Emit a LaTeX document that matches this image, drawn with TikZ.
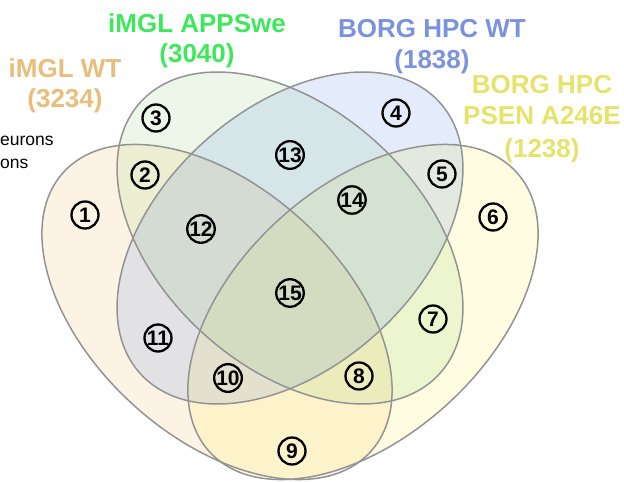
\documentclass[tikz,border=0pt]{standalone}
\usepackage{fontspec}
\setmainfont{Liberation Sans}
% set fills
\definecolor{fillA}{HTML}{F5B860}
\definecolor{fillB}{HTML}{6CC04A}
\definecolor{fillC}{HTML}{4A7BE0}
\definecolor{fillD}{HTML}{FFF24D}
% set titles
\definecolor{titleA}{HTML}{E8BE7A}
\definecolor{titleB}{HTML}{3DE85A}
\definecolor{titleC}{HTML}{7B93DE}
\definecolor{titleD}{HTML}{E6E36A}
\definecolor{rim}{HTML}{939393}
\tikzset{
  setfill/.style={fill=#1, fill opacity=0.17, draw=none},
  setrim/.style={draw=rim, line width=1.5pt},
  regionmark/.style={circle, draw=black, line width=2.3pt, minimum size=27pt,
    inner sep=0pt, font=\fontsize{21}{21}\selectfont\bfseries},
  settitle/.style={anchor=base, inner sep=0pt, text=#1,
    font=\fontsize{26}{30}\selectfont\bfseries},
  sidenote/.style={anchor=base west, inner sep=0pt,
    font=\fontsize{17.5}{20}\selectfont}
}
\begin{document}
\begin{tikzpicture}[x=1pt, y=-1pt]
\useasboundingbox (0,0) rectangle (624,482);

% ellipse centres
\coordinate (cA) at (217,312);
\coordinate (cD) at (363,312);
\coordinate (cBC) at (290,238);

% translucent fills
\fill[setfill=fillA, rotate around={-42.3:(cA)}] (cA) ellipse [x radius=207.6pt, y radius=125pt];
\fill[setfill=fillD, rotate around={42.3:(cD)}] (cD) ellipse [x radius=207.6pt, y radius=125pt];
\fill[setfill=fillB, fill opacity=0.12, rotate around={-42.2:(cBC)}] (cBC) ellipse [x radius=202pt, y radius=129pt];
\fill[setfill=fillC, fill opacity=0.15, rotate around={42.2:(cBC)}] (cBC) ellipse [x radius=202pt, y radius=129pt];

% outlines
\draw[setrim, rotate around={-42.3:(cA)}] (cA) ellipse [x radius=207.6pt, y radius=125pt];
\draw[setrim, rotate around={42.3:(cD)}] (cD) ellipse [x radius=207.6pt, y radius=125pt];
\draw[setrim, rotate around={-42.2:(cBC)}] (cBC) ellipse [x radius=202pt, y radius=129pt];
\draw[setrim, rotate around={42.2:(cBC)}] (cBC) ellipse [x radius=202pt, y radius=129pt];

% region numbers
\node[regionmark] (r1)  at (85,215)  {1};
\node[regionmark] (r2)  at (145,175) {2};
\node[regionmark] (r3)  at (156,118) {3};
\node[regionmark] (r4)  at (396,113) {4};
\node[regionmark] (r5)  at (442,174) {5};
\node[regionmark] (r6)  at (493,217) {6};
\node[regionmark] (r7)  at (433,319) {7};
\node[regionmark] (r8)  at (359,376) {8};
\node[regionmark] (r9)  at (292,451) {9};
\node[regionmark] (r10) at (228,378) {10};
\node[regionmark] (r11) at (158,338) {11};
\node[regionmark] (r12) at (201,229) {12};
\node[regionmark] (r13) at (290,155) {13};
\node[regionmark] (r14) at (352,200) {14};
\node[regionmark] (r15) at (290,293) {15};

% set titles
\node[settitle=titleA] (tA1) at (65,77)   {iMGL WT};
\node[settitle=titleA] (tA2) at (65,107)  {(3234)};
\node[settitle=titleB] (tB1) at (197,32)  {iMGL APPSwe};
\node[settitle=titleB] (tB2) at (197,62)  {(3040)};
\node[settitle=titleC] (tC1) at (432,37)  {BORG HPC WT};
\node[settitle=titleC] (tC2) at (432,68)  {(1838)};
\node[settitle=titleD] (tD1) at (542,93)  {BORG HPC};
\node[settitle=titleD] (tD2) at (542,124) {PSEN A246E};
\node[settitle=titleD] (tD3) at (542,157) {(1238)};

% cut-off side legend
\node[sidenote] (n1) at (0,145) {eurons};
\node[sidenote] (n2) at (0,168) {ons};
\end{tikzpicture}
\end{document}
